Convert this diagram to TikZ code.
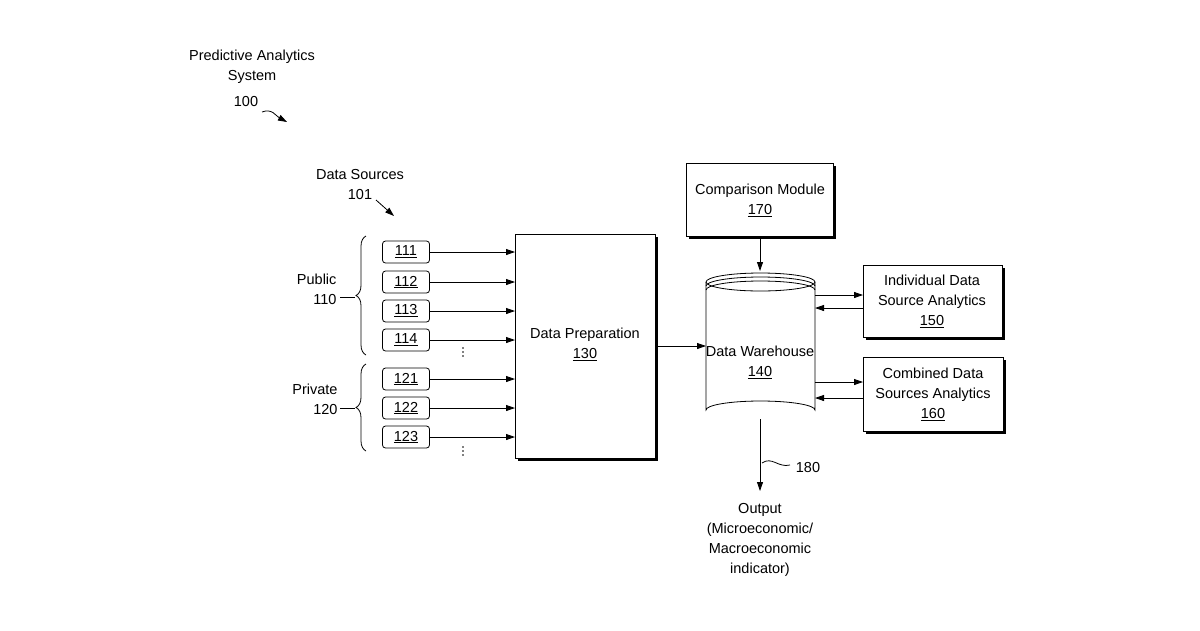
\documentclass[tikz,border=0pt]{standalone}
\usepackage{fontspec}
\setmainfont{Liberation Sans}
\usetikzlibrary{arrows.meta,decorations.pathreplacing}

\begin{document}
\begin{tikzpicture}[x=1pt,y=-1pt,font=\fontsize{14.5}{20}\selectfont,
	box/.style={draw,thick,fill=white,align=center},
	src/.style={draw,thick,rounded corners=3pt,minimum width=47pt,minimum height=22pt,inner sep=0pt},
	arr/.style={thick,-{Triangle[length=9pt,width=6pt]}}]
	\useasboundingbox (0,0) rectangle (1200,630);

	% Titel
	\node[align=center] (title) at (252,67) {Predictive Analytics\\System};
	\node (n100) at (246,102) {100};
	\draw [arr] (262,112) .. controls (272,108) and (276,116) .. (287,122);
	\node[align=center] (ds) at (360,185) {Data Sources\\101};
	\draw [arr] (376,200) -- (394,216);

	% Datenquellen
	\foreach \n/\y in {111/252,112/282,113/311,114/340,121/379,122/408,123/437}{
		\node[src] (s\n) at (406,\y) {\underline{\n}};
		\draw [arr] (s\n.east) -- (515,\y);
	}
	\foreach \y in {352,451}{
		\foreach \d in {-4,0,4} \fill (463,\y+\d) circle (0.8);
	}

	% Klammern
	\draw [thick,decorate,decoration={brace,amplitude=10pt}] (366,355) -- (366,236);
	\draw [thick,decorate,decoration={brace,amplitude=10pt}] (366,451) -- (366,364);
	\node[align=right,anchor=east] (pub) at (340,289) {Public\\110};
	\draw [thick] (340,297) -- (355,297);
	\node[align=right,anchor=east] (priv) at (341,399) {Private\\120};
	\draw [thick] (340,408) -- (355,408);

	% Datenaufbereitung
	\fill (518,237) rectangle (658,461);
	\draw [box] (515,234) rectangle (655,458);
	\node[align=center] (prep) at (585,344) {Data Preparation\\\underline{130}};
	\draw [arr] (655,346) -- (706,346);

	% Data Warehouse
	\draw [thick,fill=white] (706,282) -- (706,410) arc (180:360:54.5 and 9) -- (815,282);
	\draw [thick,fill=white] (760.5,282) ellipse (54.5 and 9);
	\draw [thick] (706,286) arc (180:360:54.5 and 9);
	\draw [thick] (706,290) arc (180:360:54.5 and 9);
	\node[align=center] (dw) at (760,362) {Data Warehouse\\\underline{140}};

	% Vergleichsmodul
	\fill (689,166) rectangle (836,239);
	\draw [box] (686,163) rectangle (833,236);
	\node[align=center] (cmp) at (760,200) {Comparison Module\\\underline{170}};
	\draw [arr] (760,236) -- (760,271);

	% Analysen
	\fill (866,268) rectangle (1005,340);
	\draw [box] (863,265) rectangle (1002,337);
	\node[align=center] (ind) at (932,301) {Individual Data\\Source Analytics\\\underline{150}};
	\fill (866,360) rectangle (1006,434);
	\draw [box] (863,357) rectangle (1003,431);
	\node[align=center] (comb) at (933,394) {Combined Data\\Sources Analytics\\\underline{160}};
	\draw [arr] (815,295) -- (863,295);
	\draw [arr] (863,308) -- (815,308);
	\draw [arr] (815,382) -- (863,382);
	\draw [arr] (863,398) -- (815,398);

	% Ausgabe
	\draw [arr] (760,419) -- (760,491);
	\draw [thick] (762,463) .. controls (772,456) and (778,468) .. (790,465);
	\node (n180) at (808,467) {180};
	\node[align=center] (out) at (760,540) {Output\\(Microeconomic/\\Macroeconomic\\indicator)};
\end{tikzpicture}
\end{document}
